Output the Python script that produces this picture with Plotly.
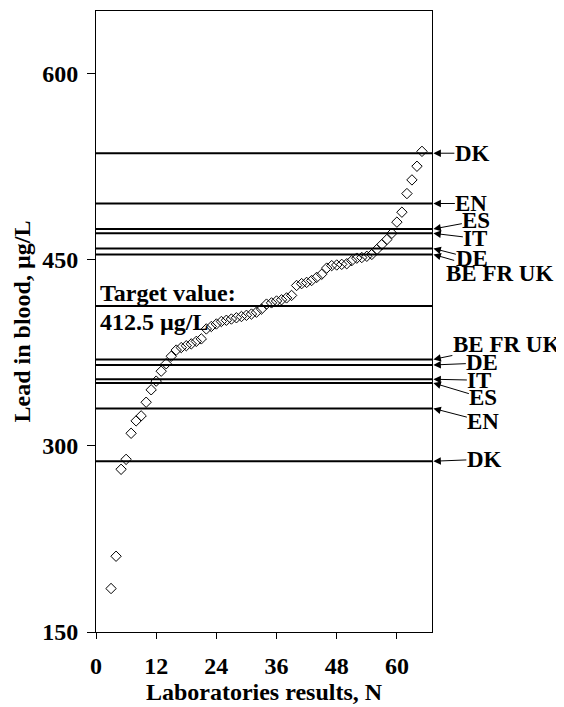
import plotly.graph_objects as go

# Data
lab_n = list(range(3, 66))
lead_values = [185, 211, 281, 289, 310, 320, 324, 335, 345, 352,
               360, 366, 372, 377, 379, 380.5, 382, 384, 386, 394,
               396, 398, 400, 401, 402, 403, 404, 405, 406, 407.5,
               410, 414, 415, 416.5, 417.5, 419, 421, 429, 430.5, 431.5,
               433, 435.5, 438, 443, 445, 445.5, 446, 446.5, 449, 451,
               451.5, 452.5, 454, 458, 462, 466, 471, 480, 488, 503,
               514, 525, 537]

target_value = 412.5
limit_labels = ["DK", "EN", "ES", "IT", "DE", "BE FR UK"]
upper_limits = [535.5, 495, 474.5, 471, 458.8, 454]
lower_limits = [287.5, 330, 350.5, 353.5, 365, 369.5]

x_ticks = [0, 12, 24, 36, 48, 60]
y_ticks = [150, 300, 450, 600]
x_range = [0, 67]
y_range = [150, 650]

FONT = "Liberation Serif"
FS = 24
LFS = 23

fig = go.Figure()

# horizontal limit lines
for v in upper_limits + lower_limits + [target_value]:
    fig.add_trace(go.Scatter(x=x_range, y=[v, v], mode="lines",
                             line=dict(color="black", width=2),
                             hoverinfo="skip", showlegend=False))

fig.add_trace(go.Scatter(x=lab_n, y=lead_values, mode="markers",
                         marker=dict(symbol="diamond-open", size=8,
                                     color="black", line=dict(width=1)),
                         showlegend=False))

# label offsets (pixels) from arrow head to text centre
upper_offsets = [(39, 0), (38, 0), (43, -8), (42, 5), (39, 10), (66, 19)]
lower_offsets = [(51, -2), (50, 13), (50, 15), (46, 1), (49, -2), (73, -15)]

annotations = []
for lab, v, (ax, ay) in zip(limit_labels, upper_limits, upper_offsets):
    annotations.append(dict(x=1.004, y=v, xref="paper", yref="y", text="<b>%s</b>" % lab,
                            showarrow=True, arrowhead=2, arrowsize=1.5, arrowwidth=1,
                            arrowcolor="black", ax=ax, ay=ay, borderpad=0,
                            font=dict(family=FONT, size=LFS, color="black")))
for lab, v, (ax, ay) in zip(limit_labels, lower_limits, lower_offsets):
    annotations.append(dict(x=1.004, y=v, xref="paper", yref="y", text="<b>%s</b>" % lab,
                            showarrow=True, arrowhead=2, arrowsize=1.5, arrowwidth=1,
                            arrowcolor="black", ax=ax, ay=ay, borderpad=0,
                            font=dict(family=FONT, size=LFS, color="black")))

annotations.append(dict(x=0.3, y=target_value, xref="x", yref="y", xanchor="left",
                        yanchor="bottom", yshift=-2, text="<b>Target value:</b>",
                        showarrow=False, font=dict(family=FONT, size=FS, color="black")))
annotations.append(dict(x=0.3, y=target_value, xref="x", yref="y", xanchor="left",
                        yanchor="top", yshift=-1, text="<b>%s µg/L</b>" % target_value,
                        showarrow=False, font=dict(family=FONT, size=FS, color="black")))

fig.update_layout(
    width=564, height=707,
    margin=dict(l=88, r=140, t=3, b=83),
    paper_bgcolor="white", plot_bgcolor="white",
    font=dict(family=FONT, size=FS, color="black"),
    annotations=annotations,
    xaxis=dict(range=x_range, tickvals=x_ticks, ticktext=["<b>%d</b>" % t for t in x_ticks],
               ticks="outside", ticklen=6, tickcolor="black", ticklabelstandoff=6,
               showgrid=False, zeroline=False,
               showline=True, linecolor="black", linewidth=1, mirror=True,
               title=dict(text="<b>Laboratories results, N</b>", standoff=2,
                          font=dict(family=FONT, size=FS))),
    yaxis=dict(range=y_range, tickvals=y_ticks, ticktext=["<b>%d</b>" % t for t in y_ticks],
               ticks="outside", ticklen=8, tickcolor="black", ticklabelstandoff=4,
               showgrid=False, zeroline=False,
               showline=True, linecolor="black", linewidth=1, mirror=True,
               title=dict(text="<b>Lead in blood, µg/L</b>", standoff=4,
                          font=dict(family=FONT, size=FS))),
)

fig.write_html("out.html")
